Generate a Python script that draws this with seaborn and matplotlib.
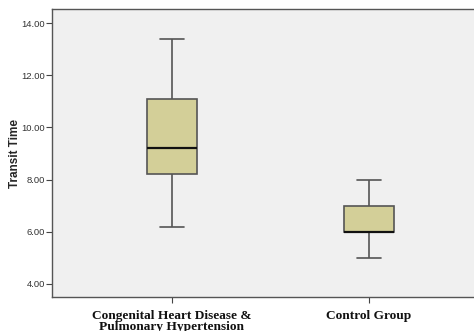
import matplotlib
matplotlib.use("Agg")
import matplotlib.pyplot as plt
import seaborn as sns
import pandas as pd

groups = ["Congenital Heart Disease &\nPulmonary Hypertension", "Control Group"]
chd_values = [6.2, 8.2, 9.2, 11.1, 13.4]
control_values = [5.0, 6.0, 6.0, 7.0, 8.0]
yticks = [4.0, 6.0, 8.0, 10.0, 12.0, 14.0]

df = pd.DataFrame({
    "group": [groups[0]] * len(chd_values) + [groups[1]] * len(control_values),
    "value": chd_values + control_values,
})

sns.set_style("white")
fig = plt.figure(figsize=(4.74, 3.31), dpi=100)
W, H = 474, 331
ax = fig.add_axes([52 / W, 1 - 297 / H, (474 - 52) / W, (297 - 9) / H])
ax.set_facecolor("#F0F0F0")

sns.boxplot(data=df, x="group", y="value", order=groups, ax=ax,
            width=0.25, color="#D3CF98", whis=1.5,
            linecolor="#555555", linewidth=1.2, saturation=1,
            medianprops=dict(color="#111111", linewidth=1.6),
            capprops=dict(color="#555555", linewidth=1.2),
            showfliers=False)

ax.set_xlim(-0.609, 1.533)
ax.set_ylim(3.5, 14.54)
ax.set_yticks(yticks)
ax.set_yticklabels([f"{v:.2f}" for v in yticks], fontsize=6.8, color="#333333",
                   family="Liberation Sans")
ax.set_xticks([0, 1])
ax.set_xticklabels(groups, fontsize=9.6, fontweight="bold", family="Liberation Serif",
                   color="#111111", linespacing=0.95)
ax.tick_params(axis="y", length=4, width=0.8, color="#444444", pad=1, left=True)
ax.tick_params(axis="x", length=4, width=0.8, color="#444444", pad=5, bottom=True)
ax.set_xlabel("")
ax.set_ylabel("Transit Time", fontsize=8.5, fontweight="bold", family="Liberation Sans")
ax.yaxis.set_label_coords(-0.074, 0.5)
for side in ["left", "bottom", "top"]:
    ax.spines[side].set_color("#555555")
    ax.spines[side].set_linewidth(1.0)
ax.spines["right"].set_visible(False)

fig.savefig("out.png", dpi=100)
